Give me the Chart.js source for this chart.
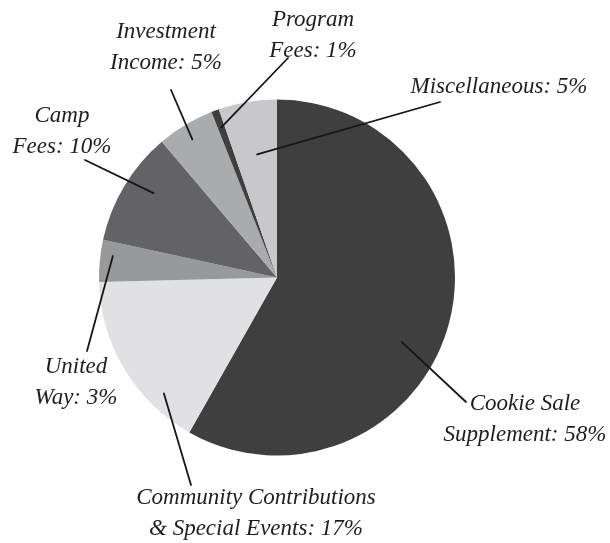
<!DOCTYPE html>
<html>
<head>
  <script src="https://cdn.jsdelivr.net/npm/chart.js"></script>
  <style>
    html, body { margin: 0; padding: 0; background: #ffffff; }
    #wrap { position: relative; width: 610px; height: 543px; }
    #pie { display: block; }
    .lbl {
      position: absolute;
      width: 300px;
      text-align: center;
      white-space: pre-line;
      font-family: "Liberation Serif", serif;
      font-style: italic;
      font-size: 23px;
      line-height: 30.5px;
      color: #1e1e1e;
    }
  </style>
</head>
<body>
<div id="wrap">
  <canvas id="pie" width="610" height="543"></canvas>
</div>

<script>
  // slices, clockwise from 12 o'clock
  const categories = [
    "Cookie Sale Supplement",
    "Community Contributions & Special Events",
    "United Way",
    "Camp Fees",
    "Investment Income",
    "Program Fees",
    "Miscellaneous"
  ];
  const shares = [58.2, 16.4, 3.8, 10.4, 5.2, 0.7, 5.3];
  const percentText = ["58%", "17%", "3%", "10%", "5%", "1%", "5%"];
  const sliceColors = ["#3f3f3f", "#e1e1e3", "#98999b", "#636366", "#aaabad", "#3f3f3f", "#c8c8ca"];

  // label text lines, anchor (center x, first baseline), leader end, leader start inside slice (t along angle, r fraction)
  const labelLines = [
    ["Cookie Sale", "Supplement: " + percentText[0]],
    ["Community Contributions", "& Special Events: " + percentText[1]],
    ["United", "Way: " + percentText[2]],
    ["Camp", "Fees: " + percentText[3]],
    ["Investment", "Income: " + percentText[4]],
    ["Program", "Fees: " + percentText[5]],
    ["Miscellaneous: " + percentText[6]]
  ];
  const labelAt = [[525, 411], [256, 505], [76, 374], [62, 123], [166, 39], [313, 27], [499, 94]];
  const leaderEnd = [[466, 402], [191, 485], [87, 351], [85, 160], [171, 90], [288, 58], [440, 102]];
  const leaderIn = [[0.56, 0.79], [0.25, 0.91], [0.65, 0.93], [0.59, 0.84], [0.47, 0.91], [0.5, 0.9], [0.52, 0.7]];

  const leaderPlugin = {
    id: "leaders",
    afterDatasetsDraw(chart) {
      const ctx = chart.ctx;
      const arcs = chart.getDatasetMeta(0).data;
      ctx.save();
      ctx.strokeStyle = "#161616";
      ctx.lineWidth = 1.8;
      ctx.lineCap = "round";
      arcs.forEach((arc, i) => {
        const { x, y, startAngle, endAngle, outerRadius } = arc.getProps(["x", "y", "startAngle", "endAngle", "outerRadius"], true);
        const a = startAngle + (endAngle - startAngle) * leaderIn[i][0];
        const r = outerRadius * leaderIn[i][1];
        ctx.beginPath();
        ctx.moveTo(x + Math.cos(a) * r, y + Math.sin(a) * r);
        ctx.lineTo(leaderEnd[i][0], leaderEnd[i][1]);
        ctx.stroke();
      });
      ctx.restore();
    }
  };

  new Chart(document.getElementById("pie"), {
    type: "pie",
    data: {
      labels: categories,
      datasets: [{
        data: shares,
        backgroundColor: sliceColors,
        borderWidth: 0
      }]
    },
    options: {
      responsive: false,
      animation: false,
      layout: { padding: { left: 99, right: 155, top: 99.5, bottom: 87.5 } },
      plugins: {
        legend: { display: false },
        tooltip: { enabled: false }
      }
    },
    plugins: [leaderPlugin]
  });

  // slice labels as text over the canvas (baseline sits ~23px below line top)
  const wrap = document.getElementById("wrap");
  labelLines.forEach((lines, i) => {
    const d = document.createElement("div");
    d.className = "lbl";
    d.textContent = lines.join("\n");
    d.style.left = (labelAt[i][0] - 150) + "px";
    d.style.top = (labelAt[i][1] - 23) + "px";
    wrap.appendChild(d);
  });
</script>
</body>
</html>
